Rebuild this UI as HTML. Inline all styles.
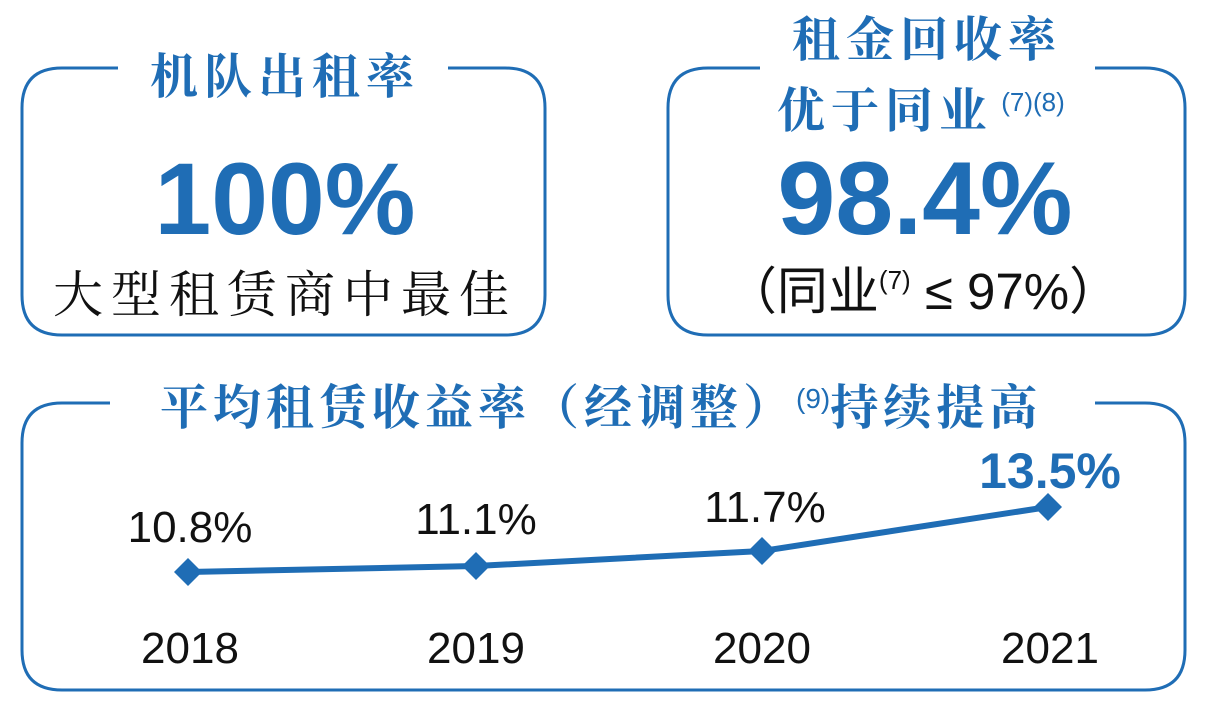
<!DOCTYPE html>
<html><head><meta charset="utf-8"><style>
html,body{margin:0;padding:0;background:#fff;}
svg{display:block;}
.t{font-family:"Liberation Sans","Noto Sans CJK SC",sans-serif;}
.s{font-family:"Noto Serif CJK SC","Noto Sans CJK SC",serif;font-weight:bold;}
</style></head><body>
<svg width="1208" height="722" viewBox="0 0 1208 722" xmlns="http://www.w3.org/2000/svg">
<g fill="none" stroke="#1f6db5" stroke-width="3">
<path d="M118 68 H62 Q22 68 22 108 V295 Q22 335 62 335 H505 Q545 335 545 295 V108 Q545 68 505 68 H448"/>
<path d="M760 68 H708 Q668 68 668 108 V295 Q668 335 708 335 H1145 Q1185 335 1185 295 V108 Q1185 68 1145 68 H1095"/>
<path d="M110 403 H62 Q22 403 22 443 V650 Q22 690 62 690 H1145 Q1185 690 1185 650 V443 Q1185 403 1145 403 H1095"/>
</g>
<text class="s" x="285" y="93" font-size="48" fill="#1f6db5" text-anchor="middle" letter-spacing="6">机队出租率</text>
<text class="t" x="285" y="234" font-size="102" font-weight="bold" fill="#1f6db5" text-anchor="middle">100%</text>
<text class="s" x="285" y="312" font-size="50" fill="#111" text-anchor="middle" letter-spacing="8" style="font-weight:normal">大型租赁商中最佳</text>
<text class="s" x="927" y="56" font-size="48" fill="#1f6db5" text-anchor="middle" letter-spacing="6">租金回收率</text>
<text class="s" x="885" y="127" font-size="48" fill="#1f6db5" text-anchor="middle" letter-spacing="6">优于同业</text>
<text class="t" x="1033" y="111" font-size="26" fill="#1f6db5" text-anchor="middle">(7)(8)</text>
<text class="t" x="925" y="234" font-size="104" font-weight="bold" fill="#1f6db5" text-anchor="middle">98.4%</text>
<text class="t" x="923" y="309" font-size="51" fill="#111" text-anchor="middle">（同业<tspan font-size="26" dy="-20">(7)</tspan><tspan dy="20"> ≤ 97%）</tspan></text>
<text class="s" x="160" y="424" font-size="48" fill="#1f6db5" letter-spacing="5">平均租赁收益率（经调整）<tspan font-family="Liberation Sans" font-weight="normal" font-size="28" dy="-16" letter-spacing="0">(9)</tspan><tspan dy="16">持续提高</tspan></text>
<polyline points="188,572 476,566 762,551 1048,507" fill="none" stroke="#1f6db5" stroke-width="6"/>
<g fill="#1f6db5">
<path d="M188 558 L202 572 L188 586 L174 572Z"/>
<path d="M476 552 L490 566 L476 580 L462 566Z"/>
<path d="M762 537 L776 551 L762 565 L748 551Z"/>
<path d="M1048 493 L1062 507 L1048 521 L1034 507Z"/>
</g>
<g class="t" font-size="44" fill="#111" text-anchor="middle">
<text x="190" y="542">10.8%</text>
<text x="476" y="534">11.1%</text>
<text x="765" y="522">11.7%</text>
<text x="190" y="663">2018</text>
<text x="476" y="663">2019</text>
<text x="762" y="663">2020</text>
<text x="1050" y="663">2021</text>
</g>
<text class="t" x="1050" y="488" font-size="50" font-weight="bold" fill="#1f6db5" text-anchor="middle">13.5%</text>
</svg>
</body></html>
